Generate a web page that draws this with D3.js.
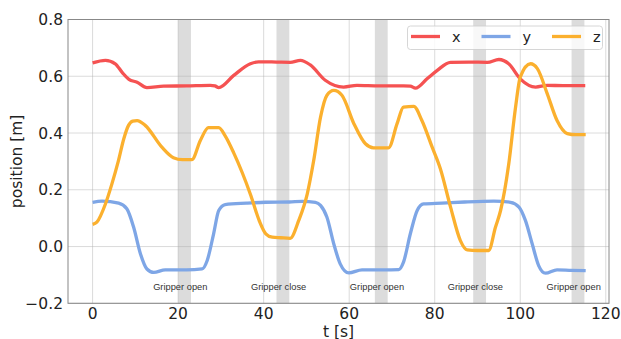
<!DOCTYPE html>
<html><head><meta charset="utf-8">
<script src="https://cdn.jsdelivr.net/npm/d3@7"></script>
<style>
body{margin:0;background:#fff;}
text{font-family:"DejaVu Sans",sans-serif;}
</style></head>
<body><svg id="c" width="621" height="339"></svg>
<script>
// ---- data ----
const xT = [0,3,5.3,7,8.5,10.4,12.7,16.6,22,27.5,28.6,29.5,33,36.9,38.8,43,46.2,48.6,50.9,54.4,58.7,61.8,67,72.7,74.3,75.5,78.2,80.6,83.7,88,92.3,95,97.3,100,103.6,106.3,110,115.2];
const xV = [0.647,0.656,0.644,0.612,0.589,0.579,0.56,0.565,0.566,0.568,0.566,0.56,0.603,0.644,0.651,0.650,0.649,0.656,0.640,0.586,0.562,0.568,0.566,0.566,0.565,0.558,0.591,0.621,0.649,0.650,0.649,0.659,0.644,0.591,0.562,0.568,0.567,0.567];

const yT = [0,2.2,6.1,8,9.6,11.2,12.7,14.3,17,22,25.6,26.8,28.3,29.5,31,36,40.4,46,49,52.1,53.3,54.8,56.4,57.9,59.9,63,68,71.6,72.7,74.3,75.9,77.4,81.7,87,93.8,97.7,99.7,101.2,102.8,104.3,105.9,108.6,112,115.3];
const yV = [0.156,0.160,0.153,0.133,0.068,-0.026,-0.079,-0.091,-0.082,-0.082,-0.079,-0.049,0.045,0.127,0.148,0.153,0.156,0.157,0.159,0.156,0.145,0.103,0.009,-0.061,-0.093,-0.082,-0.082,-0.081,-0.055,0.045,0.127,0.150,0.153,0.157,0.160,0.156,0.139,0.092,0.009,-0.067,-0.094,-0.082,-0.084,-0.085];

const zT = [0,1,3,4.5,6,7.3,8.4,9.4,10.4,12.3,16.2,18.9,21,23.2,25.2,27.1,29.5,31,33,35,37,39,40.5,42,44,46.2,48.2,50.2,51.7,53.3,54.8,56.4,58.3,61.1,63.8,65.7,67.5,69.2,71.2,72.7,75.1,77,79.4,81.3,83.7,86,87.6,90,92.6,94.2,95.4,97.3,98.9,100,102.4,104,106.3,108.6,111,113,115.3];
const zV = [0.078,0.086,0.15,0.22,0.30,0.38,0.427,0.442,0.444,0.427,0.350,0.313,0.306,0.306,0.374,0.419,0.419,0.39,0.33,0.26,0.18,0.09,0.045,0.033,0.031,0.029,0.092,0.186,0.303,0.456,0.533,0.550,0.533,0.433,0.362,0.348,0.348,0.348,0.433,0.491,0.494,0.444,0.350,0.275,0.139,0.021,-0.012,-0.014,-0.014,0.068,0.127,0.290,0.491,0.597,0.644,0.627,0.539,0.444,0.398,0.394,0.394];

const bandStarts = [20,43,66,89,112];
const bandWidth = 3;
const bandLabels = ["Gripper open","Gripper close","Gripper open","Gripper close","Gripper open"];

const xTicks = [0,20,40,60,80,100,120];
const yTicks = [-0.2,0.0,0.2,0.4,0.6,0.8];

const seriesNames = ["x","y","z"];
const seriesColors = ["#f55252","#7ea6e6","#fbb02e"];

// ---- layout ----
const svg = d3.select("#c");
const L=68, R=609, T=19.5, B=303.3;
const x = d3.scaleLinear().domain([-5.75,120.75]).range([L,R]);
const y = d3.scaleLinear().domain([-0.2,0.8]).range([B,T]);

// bands
svg.append("g").selectAll("rect").data(bandStarts).join("rect")
  .attr("x",d=>x(d)).attr("width",d=>x(d+bandWidth)-x(d))
  .attr("y",T).attr("height",B-T).attr("fill","#dcdcdc");

// grid
const g = svg.append("g");
g.selectAll("line.vx").data(xTicks).join("line")
  .attr("x1",d=>x(d)).attr("x2",d=>x(d)).attr("y1",T).attr("y2",B)
  .attr("stroke","#b0b0b0").attr("stroke-opacity",0.5).attr("stroke-width",0.9);
g.selectAll("line.hy").data(yTicks).join("line")
  .attr("y1",d=>y(d)).attr("y2",d=>y(d)).attr("x1",L).attr("x2",R)
  .attr("stroke","#b0b0b0").attr("stroke-opacity",0.5).attr("stroke-width",0.9);

// labels for bands
svg.append("g").selectAll("text").data(bandStarts).join("text")
  .attr("x",d=>x(d+0.5)).attr("y",y(-0.152))
  .attr("text-anchor","middle")
  .style("font-family","'Liberation Sans',Arial,sans-serif")
  .style("font-size","9.3px").attr("fill","#333")
  .text((d,i)=>bandLabels[i]);

// lines
const line = d3.line().x(d=>x(d[0])).y(d=>y(d[1])).curve(d3.curveMonotoneX);
const series = [d3.zip(xT,xV), d3.zip(yT,yV), d3.zip(zT,zV)];
series.forEach((s,i)=>{
  svg.append("path").datum(s).attr("d",line).attr("fill","none")
    .attr("stroke",seriesColors[i]).attr("stroke-width",3.3)
    .attr("stroke-linejoin","round").attr("stroke-linecap","butt");
});

// frame
svg.append("rect").attr("x",L).attr("y",T).attr("width",R-L).attr("height",B-T)
  .attr("fill","none").attr("stroke","#888").attr("stroke-width",1);

// axes tick labels
const fmtY = d=> (d<0?"\u2212":"")+Math.abs(d).toFixed(1);
svg.append("g").selectAll("text").data(yTicks).join("text")
  .attr("x",L-5).attr("y",d=>y(d)).attr("dy","0.36em")
  .attr("text-anchor","end").style("font-size","15.5px").attr("fill","#222")
  .text(fmtY);
svg.append("g").selectAll("text").data(xTicks).join("text")
  .attr("x",d=>x(d)).attr("y",319.3)
  .attr("text-anchor","middle").style("font-size","15.5px").attr("fill","#222")
  .text(d=>d);

svg.append("text").attr("x",(L+R)/2).attr("y",336.5).attr("text-anchor","middle")
  .style("font-size","15.5px").attr("fill","#222").text("t [s]");
svg.append("text").attr("transform",`translate(22,${(T+B)/2}) rotate(-90)`)
  .attr("text-anchor","middle").style("font-size","15.5px").attr("fill","#222").text("position [m]");

// legend
const lg = svg.append("g");
lg.append("rect").attr("x",407.5).attr("y",26).attr("width",195).attr("height",23.5).attr("rx",3)
  .attr("fill","#fff").attr("fill-opacity",0.8).attr("stroke","#ccc").attr("stroke-width",0.8);
const lgX = [411,481.5,552];
seriesNames.forEach((n,i)=>{
  lg.append("line").attr("x1",lgX[i]).attr("x2",lgX[i]+29).attr("y1",36.5).attr("y2",36.5)
    .attr("stroke",seriesColors[i]).attr("stroke-width",3.3);
  lg.append("text").attr("x",lgX[i]+41).attr("y",36.5).attr("dy","0.36em")
    .style("font-size","14.5px").attr("fill","#222").text(n);
});
</script></body></html>
